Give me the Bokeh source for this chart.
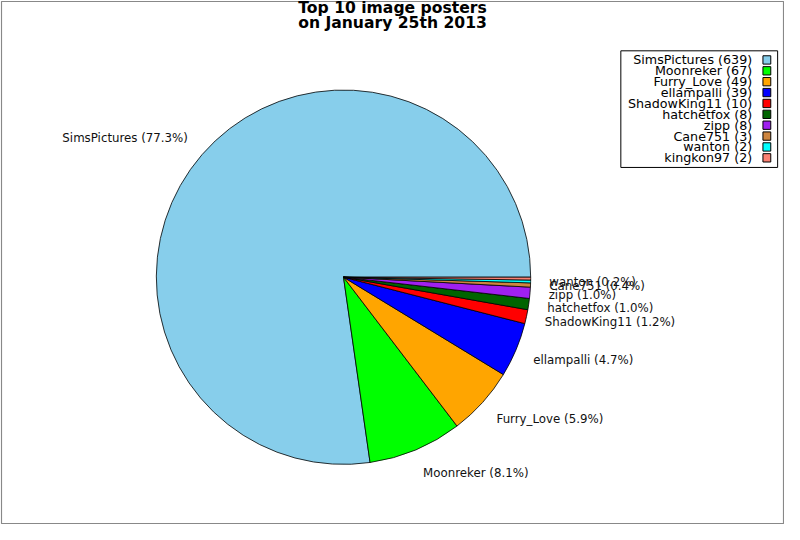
import math
from bokeh.plotting import figure
from bokeh.models import Range1d, ColumnDataSource
from bokeh.core.properties import value
from bokeh.embed import file_html
from bokeh.resources import INLINE

# ---- data ----
names = ["SimsPictures", "Moonreker", "Furry_Love", "ellampalli", "ShadowKing11",
         "hatchetfox", "zipp", "Cane751", "wanton", "kingkon97"]
counts = [639, 67, 49, 39, 10, 8, 8, 3, 2, 2]
colors = ["#87CEEB", "#00FF00", "#FFA500", "#0000FF", "#FF0000",
          "#006400", "#A020F0", "#CD853F", "#00FFFF", "#FA8072"]
title_lines = ["Top 10 image posters", "on January 25th 2013"]
labeled = 9  # the last slice's label is not drawn in the reference

# ---- layout (reference pixel space, y up) ----
W, H = 784, 524
half_h = H / W * 400
y0, y1 = 270 - half_h, 270 + half_h
p = figure(width=W, height=H, x_range=Range1d(0, 800),
           y_range=Range1d(y0, y1),
           output_backend="svg", toolbar_location=None, min_border=0)
p.axis.visible = False
p.grid.visible = False
p.background_fill_color = "white"
p.border_fill_color = "white"
p.outline_line_color = None

FONT = value("DejaVu Sans")
cx, cy, R = 350, 540 - 285, 191

# outer gray border
p.rect(x=[400], y=[270], width=800 - 2, height=(y1 - y0) - 2,
       fill_color=None, line_color="#888888", line_width=1.2)

total = sum(counts)
starts, ends, pct = [], [], []
acc = 0
for c in counts:
    starts.append(2 * math.pi * acc / total)
    acc += c
    ends.append(2 * math.pi * acc / total)
    pct.append(100.0 * c / total)

src = ColumnDataSource(dict(start=starts, end=ends, color=colors))
p.wedge(x=cx, y=cy, radius=R, start_angle="start", end_angle="end",
        direction="anticlock", fill_color="color", line_color="black",
        line_width=0.8, source=src)

# slice labels
lx, ly, la = [], [], []
lt = []
for i in range(labeled):
    mid = (starts[i] + ends[i]) / 2
    cs, sn = math.cos(mid), math.sin(mid)
    lx.append(cx + 1.10 * R * cs)
    ly.append(cy + 1.135 * R * sn)
    la.append("left" if cs >= 0 else "right")
    lt.append(f"{names[i]} ({pct[i]:.1f}%)")
lsrc = ColumnDataSource(dict(x=lx, y=ly, t=lt, a=la))
p.text(x="x", y="y", text="t", text_align="a", text_baseline="middle",
       text_font=FONT, text_font_size="11.8px", text_color="#111111", source=lsrc)

# title
p.text(x=[400, 400], y=[540 - 10.5, 540 - 25.5], text=title_lines,
       text_align="center", text_baseline="middle", text_font=FONT,
       text_font_style="bold", text_font_size="15.6px", text_color="black")

# legend box
p.rect(x=[713], y=[540 - 113.5], width=160, height=119, fill_color="white",
       line_color="black", line_width=1)
leg_y = [540 - (63.3 + 11.1 * i) for i in range(len(names))]
leg_t = [f"{n} ({c})" for n, c in zip(names, counts)]
p.text(x=[767] * len(names), y=leg_y, text=leg_t, text_align="right",
       text_baseline="middle", text_font=FONT, text_font_size="12.7px",
       text_color="black")
p.rect(x=[782] * len(names), y=leg_y, width=8, height=8.5, fill_color=colors,
       line_color="black", line_width=1)

open("out.html", "w").write(file_html(p, INLINE))
